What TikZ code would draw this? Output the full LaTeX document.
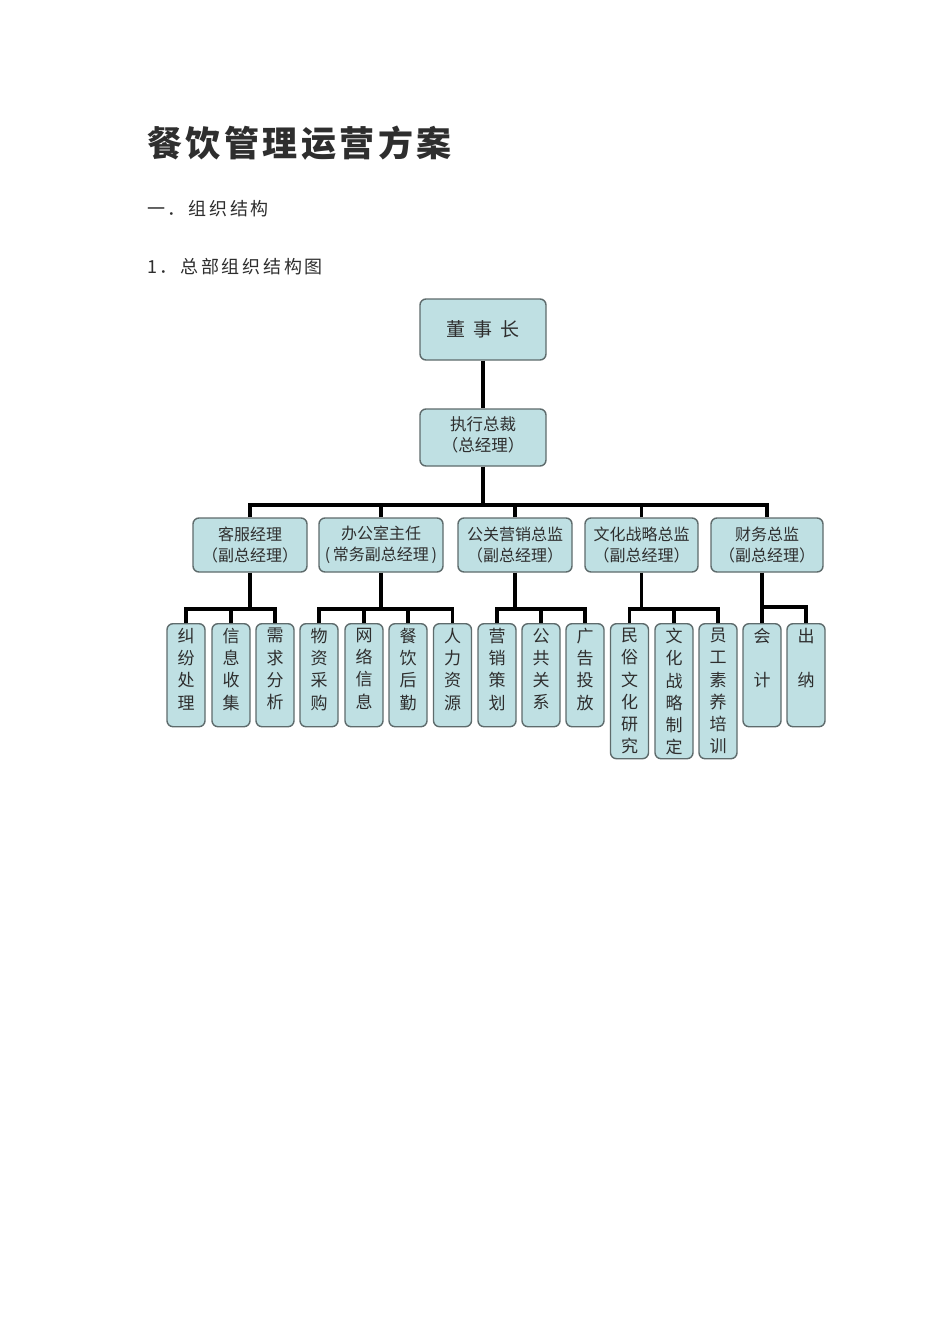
\documentclass[tikz,border=0pt]{standalone}
\usepackage{fontspec}
\newfontfamily\cjk{Noto Sans CJK SC}
\newfontfamily\cjkls{Noto Sans CJK SC}[LetterSpace=15]
\newfontfamily\cjktitle{Noto Sans CJK SC}[LetterSpace=10]
\definecolor{boxfill}{HTML}{BFE0E3}
\definecolor{boxline}{HTML}{5E6B6C}
\definecolor{txt}{HTML}{2E2E2E}
\tikzset{
  orgbox/.style={draw=boxline, fill=boxfill, rounded corners=6pt, line width=1.4pt,
    inner sep=0pt, align=center, text=txt},
  topbox/.style={orgbox, minimum width=126pt},
  midbox/.style={orgbox, minimum height=54pt, font=\cjk\fontsize{16}{21}\selectfont},
  leafbox/.style={orgbox, minimum width=38pt},
  leaftxt/.style={inner sep=0pt, align=center, text=txt, font=\cjk\fontsize{17}{22.2}\selectfont, yshift=-5pt},
  conn/.style={line width=3.2pt, black},
  heading/.style={anchor=west, inner sep=0pt, text=txt}
}
\begin{document}
\begin{tikzpicture}[x=1pt,y=-1pt]
\useasboundingbox (0,0) rectangle (950,1344);
\fill[white] (0,0) rectangle (950,1344);

% headings
\node[heading, font=\cjktitle\bfseries\fontsize{35}{40}\selectfont] (title) at (147,143) {餐饮管理运营方案};
\node[heading, font=\cjkls\fontsize{18}{22}\selectfont] (h1) at (147,209) {一．组织结构};
\node[heading, font=\cjkls\fontsize{18}{22}\selectfont] (h2) at (147,267) {1．总部组织结构图};

% level 0 / 1
\node[topbox, minimum height=61pt, font=\cjk\fontsize{19}{23}\selectfont] (chair) at (483,329.5) {董\hspace{8pt}事\hspace{8pt}长};
\node[topbox, minimum height=57pt, font=\cjk\fontsize{16.5}{21}\selectfont] (ceo) at (483,437.5) {执行总裁\\（总经理）\\[-15pt]\mbox{}};

% level 2
\node[midbox, minimum width=114pt] (m1) at (250,545) {客服经理\\（副总经理）};
\node[midbox, minimum width=124pt] (m2) at (381,545) {办公室主任\\(\,常务副总经理\,)};
\node[midbox, minimum width=114pt] (m3) at (515,545) {公关营销总监\\（副总经理）};
\node[midbox, minimum width=113pt] (m4) at (641.5,545) {文化战略总监\\（副总经理）};
\node[midbox, minimum width=112pt] (m5) at (767,545) {财务总监\\（副总经理）};

% level 3
\foreach \n/\x/\h/\t in {
  a1/186/103/{纠\\纷\\处\\理},
  a2/231/103/{信\\息\\收\\集},
  a3/275/103/{需\\求\\分\\析},
  b1/319/103/{物\\资\\采\\购},
  b2/364/103/{网\\络\\信\\息},
  b3/408/103/{餐\\饮\\后\\勤},
  b4/452.5/103/{人\\力\\资\\源},
  c1/497/103/{营\\销\\策\\划},
  c2/541/103/{公\\共\\关\\系},
  c3/585/103/{广\\告\\投\\放},
  d1/629.5/135/{民\\俗\\文\\化\\研\\究},
  d2/674/135/{文\\化\\战\\略\\制\\定},
  d3/718/135/{员\\工\\素\\养\\培\\训},
  e1/762/103/{会\\[22.2pt]计},
  e2/806/103/{出\\[22.2pt]纳}}
{
  \node[leafbox, minimum height=\h pt, anchor=north,
        label={[leaftxt, anchor=north]north:\t}] (\n) at (\x,623) {};
}

% connectors
\draw[conn] (chair.south) -- (ceo.north);
\coordinate (bus1) at (483,505);
\draw[conn] (ceo.south) -- (bus1);
\draw[conn] (m1.north) |- (bus1) -| (m5.north);
\foreach \m in {m2,m3,m4} \draw[conn] (\m.north) -- (\m.north |- bus1);

\coordinate (busA) at (250,609);
\draw[conn] (m1.south) -- (busA);
\draw[conn] (a1.north) |- (busA) -| (a3.north);
\draw[conn] (a2.north) -- (a2.north |- busA);

\coordinate (busB) at (381,609);
\draw[conn] (m2.south) -- (busB);
\draw[conn] (b1.north) |- (busB) -| (b4.north);
\foreach \m in {b2,b3} \draw[conn] (\m.north) -- (\m.north |- busB);

\coordinate (busC) at (515,609);
\draw[conn] (m3.south) -- (busC);
\draw[conn] (c1.north) |- (busC) -| (c3.north);
\draw[conn] (c2.north) -- (c2.north |- busC);

\coordinate (busD) at (641.5,609);
\draw[conn] (m4.south) -- (busD);
\draw[conn] (d1.north) |- (busD) -| (d3.north);
\draw[conn] (d2.north) -- (d2.north |- busD);

\coordinate (busE) at (762,607);
\draw[conn] (m5.south -| e1.north) -- (busE);
\draw[conn] (e1.north) -- (busE) -| (e2.north);
\end{tikzpicture}
\end{document}
